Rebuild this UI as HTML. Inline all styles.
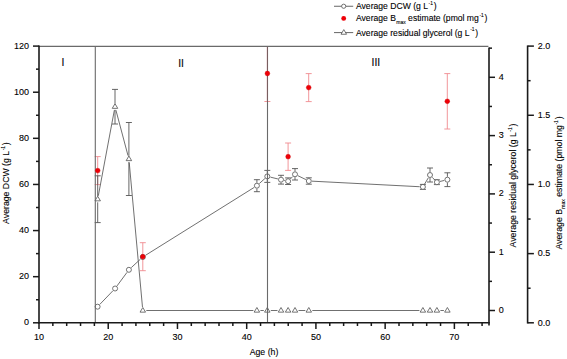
<!DOCTYPE html>
<html><head><meta charset="utf-8"><style>
html,body{margin:0;padding:0;background:#fff;}
svg{display:block;}
text{font-family:"Liberation Sans",sans-serif;fill:#000;stroke:#000;stroke-width:0.1px;}
.t{font-size:9.0px;}
.ti{font-size:8.72px;}
.lg{font-size:8.6px;}
.rl{font-size:10.4px;}
</style></head><body>
<svg width="567" height="359" viewBox="0 0 567 359">
<rect width="567" height="359" fill="#fff"/>
<line x1="97.7" y1="156.6" x2="97.7" y2="170.6" stroke="#f08a8f" stroke-width="0.9"/>
<line x1="97.7" y1="170.6" x2="97.7" y2="184.6" stroke="#f08a8f" stroke-width="0.9"/>
<line x1="94.7" y1="156.6" x2="100.7" y2="156.6" stroke="#f08a8f" stroke-width="0.9"/>
<line x1="94.7" y1="184.6" x2="100.7" y2="184.6" stroke="#f08a8f" stroke-width="0.9"/>
<line x1="142.8" y1="242.7" x2="142.8" y2="256.7" stroke="#f08a8f" stroke-width="0.9"/>
<line x1="142.8" y1="256.7" x2="142.8" y2="270.7" stroke="#f08a8f" stroke-width="0.9"/>
<line x1="139.8" y1="242.7" x2="145.8" y2="242.7" stroke="#f08a8f" stroke-width="0.9"/>
<line x1="139.8" y1="270.7" x2="145.8" y2="270.7" stroke="#f08a8f" stroke-width="0.9"/>
<line x1="267.4" y1="46.4" x2="267.4" y2="73.5" stroke="#f08a8f" stroke-width="0.9"/>
<line x1="267.4" y1="73.5" x2="267.4" y2="101.5" stroke="#f08a8f" stroke-width="0.9"/>
<line x1="264.4" y1="101.5" x2="270.4" y2="101.5" stroke="#f08a8f" stroke-width="0.9"/>
<line x1="288.1" y1="143" x2="288.1" y2="156.7" stroke="#f08a8f" stroke-width="0.9"/>
<line x1="288.1" y1="156.7" x2="288.1" y2="170.4" stroke="#f08a8f" stroke-width="0.9"/>
<line x1="285.1" y1="143" x2="291.1" y2="143" stroke="#f08a8f" stroke-width="0.9"/>
<line x1="285.1" y1="170.4" x2="291.1" y2="170.4" stroke="#f08a8f" stroke-width="0.9"/>
<line x1="308.7" y1="73.6" x2="308.7" y2="87.6" stroke="#f08a8f" stroke-width="0.9"/>
<line x1="308.7" y1="87.6" x2="308.7" y2="101.6" stroke="#f08a8f" stroke-width="0.9"/>
<line x1="305.7" y1="73.6" x2="311.7" y2="73.6" stroke="#f08a8f" stroke-width="0.9"/>
<line x1="305.7" y1="101.6" x2="311.7" y2="101.6" stroke="#f08a8f" stroke-width="0.9"/>
<line x1="447.3" y1="73.6" x2="447.3" y2="101.3" stroke="#f08a8f" stroke-width="0.9"/>
<line x1="447.3" y1="101.3" x2="447.3" y2="129" stroke="#f08a8f" stroke-width="0.9"/>
<line x1="444.3" y1="73.6" x2="450.3" y2="73.6" stroke="#f08a8f" stroke-width="0.9"/>
<line x1="444.3" y1="129" x2="450.3" y2="129" stroke="#f08a8f" stroke-width="0.9"/>
<path fill="none" stroke="#606060" stroke-width="0.9" d="M99.82 304.39L112.88 290.81M117 285.93L127 272.37M131.25 267.63L140.45 259.17M145.51 255.3L254.19 187.4M259.29 183.57L264.91 178.53M270.41 177.15L277.89 178.95M284.13 180.36L284.97 180.54M290.36 178.94L292.74 176.56M297.88 175.7L305.92 179.6M312 181.17L419.7 186.73M424.54 184.15L428.36 177.75M432.21 177.31L434.69 179.89M440.01 181.46L444.29 180.44"/>
<path fill="none" stroke="#606060" stroke-width="0.9" d="M98.34 195.76L114.36 110.14M115.9 110.08L128 155.62M129.22 162.49L142.48 307.01M146.3 310.5L253.4 310.5M260.4 310.5L263.8 310.5M270.8 310.5L277.5 310.5M284.5 310.5L284.6 310.5M298.5 310.5L305.3 310.5M312.3 310.5L419.4 310.5M426.4 310.5L426.5 310.5M440.4 310.5L443.9 310.5"/>
<line x1="256.9" y1="179.7" x2="256.9" y2="182.8" stroke="#555" stroke-width="0.9"/>
<line x1="256.9" y1="188.6" x2="256.9" y2="191.7" stroke="#555" stroke-width="0.9"/>
<line x1="253.9" y1="179.7" x2="259.9" y2="179.7" stroke="#555" stroke-width="0.9"/>
<line x1="253.9" y1="191.7" x2="259.9" y2="191.7" stroke="#555" stroke-width="0.9"/>
<line x1="267.3" y1="170.4" x2="267.3" y2="173.5" stroke="#555" stroke-width="0.9"/>
<line x1="267.3" y1="179.3" x2="267.3" y2="182.4" stroke="#555" stroke-width="0.9"/>
<line x1="264.3" y1="170.4" x2="270.3" y2="170.4" stroke="#555" stroke-width="0.9"/>
<line x1="264.3" y1="182.4" x2="270.3" y2="182.4" stroke="#555" stroke-width="0.9"/>
<line x1="281" y1="175.3" x2="281" y2="176.8" stroke="#555" stroke-width="0.9"/>
<line x1="281" y1="182.6" x2="281" y2="184.1" stroke="#555" stroke-width="0.9"/>
<line x1="278" y1="175.3" x2="284" y2="175.3" stroke="#555" stroke-width="0.9"/>
<line x1="278" y1="184.1" x2="284" y2="184.1" stroke="#555" stroke-width="0.9"/>
<line x1="288.1" y1="177.9" x2="288.1" y2="178.3" stroke="#555" stroke-width="0.9"/>
<line x1="288.1" y1="184.1" x2="288.1" y2="184.5" stroke="#555" stroke-width="0.9"/>
<line x1="285.1" y1="177.9" x2="291.1" y2="177.9" stroke="#555" stroke-width="0.9"/>
<line x1="285.1" y1="184.5" x2="291.1" y2="184.5" stroke="#555" stroke-width="0.9"/>
<line x1="295" y1="168.6" x2="295" y2="171.4" stroke="#555" stroke-width="0.9"/>
<line x1="295" y1="177.2" x2="295" y2="180" stroke="#555" stroke-width="0.9"/>
<line x1="292" y1="168.6" x2="298" y2="168.6" stroke="#555" stroke-width="0.9"/>
<line x1="292" y1="180" x2="298" y2="180" stroke="#555" stroke-width="0.9"/>
<line x1="308.8" y1="177.8" x2="308.8" y2="178.1" stroke="#555" stroke-width="0.9"/>
<line x1="308.8" y1="183.9" x2="308.8" y2="184.2" stroke="#555" stroke-width="0.9"/>
<line x1="305.8" y1="177.8" x2="311.8" y2="177.8" stroke="#555" stroke-width="0.9"/>
<line x1="305.8" y1="184.2" x2="311.8" y2="184.2" stroke="#555" stroke-width="0.9"/>
<line x1="419.9" y1="184.4" x2="425.9" y2="184.4" stroke="#555" stroke-width="0.9"/>
<line x1="419.9" y1="189.4" x2="425.9" y2="189.4" stroke="#555" stroke-width="0.9"/>
<line x1="430" y1="168" x2="430" y2="172.1" stroke="#555" stroke-width="0.9"/>
<line x1="430" y1="177.9" x2="430" y2="182" stroke="#555" stroke-width="0.9"/>
<line x1="427" y1="168" x2="433" y2="168" stroke="#555" stroke-width="0.9"/>
<line x1="427" y1="182" x2="433" y2="182" stroke="#555" stroke-width="0.9"/>
<line x1="433.9" y1="179.8" x2="439.9" y2="179.8" stroke="#555" stroke-width="0.9"/>
<line x1="433.9" y1="184.6" x2="439.9" y2="184.6" stroke="#555" stroke-width="0.9"/>
<line x1="447.4" y1="172.8" x2="447.4" y2="176.8" stroke="#555" stroke-width="0.9"/>
<line x1="447.4" y1="182.6" x2="447.4" y2="186.6" stroke="#555" stroke-width="0.9"/>
<line x1="444.4" y1="172.8" x2="450.4" y2="172.8" stroke="#555" stroke-width="0.9"/>
<line x1="444.4" y1="186.6" x2="450.4" y2="186.6" stroke="#555" stroke-width="0.9"/>
<line x1="97.7" y1="175.8" x2="97.7" y2="196.1" stroke="#555" stroke-width="0.9"/>
<line x1="97.7" y1="202.3" x2="97.7" y2="222.6" stroke="#555" stroke-width="0.9"/>
<line x1="94.7" y1="175.8" x2="100.7" y2="175.8" stroke="#555" stroke-width="0.9"/>
<line x1="94.7" y1="222.6" x2="100.7" y2="222.6" stroke="#555" stroke-width="0.9"/>
<line x1="115" y1="89.4" x2="115" y2="103.6" stroke="#555" stroke-width="0.9"/>
<line x1="115" y1="109.8" x2="115" y2="124" stroke="#555" stroke-width="0.9"/>
<line x1="112" y1="89.4" x2="118" y2="89.4" stroke="#555" stroke-width="0.9"/>
<line x1="112" y1="124" x2="118" y2="124" stroke="#555" stroke-width="0.9"/>
<line x1="128.9" y1="122.5" x2="128.9" y2="155.9" stroke="#555" stroke-width="0.9"/>
<line x1="128.9" y1="162.1" x2="128.9" y2="195.5" stroke="#555" stroke-width="0.9"/>
<line x1="125.9" y1="122.5" x2="131.9" y2="122.5" stroke="#555" stroke-width="0.9"/>
<line x1="125.9" y1="195.5" x2="131.9" y2="195.5" stroke="#555" stroke-width="0.9"/>
<circle cx="97.6" cy="306.7" r="2.5" fill="#fff" stroke="#505050" stroke-width="0.8"/>
<circle cx="115.1" cy="288.5" r="2.5" fill="#fff" stroke="#505050" stroke-width="0.8"/>
<circle cx="128.9" cy="269.8" r="2.5" fill="#fff" stroke="#505050" stroke-width="0.8"/>
<circle cx="142.8" cy="257" r="2.5" fill="#fff" stroke="#505050" stroke-width="0.8"/>
<circle cx="256.9" cy="185.7" r="2.5" fill="#fff" stroke="#505050" stroke-width="0.8"/>
<circle cx="267.3" cy="176.4" r="2.5" fill="#fff" stroke="#505050" stroke-width="0.8"/>
<circle cx="281" cy="179.7" r="2.5" fill="#fff" stroke="#505050" stroke-width="0.8"/>
<circle cx="288.1" cy="181.2" r="2.5" fill="#fff" stroke="#505050" stroke-width="0.8"/>
<circle cx="295" cy="174.3" r="2.5" fill="#fff" stroke="#505050" stroke-width="0.8"/>
<circle cx="308.8" cy="181" r="2.5" fill="#fff" stroke="#505050" stroke-width="0.8"/>
<circle cx="422.9" cy="186.9" r="2.5" fill="#fff" stroke="#505050" stroke-width="0.8"/>
<circle cx="430" cy="175" r="2.5" fill="#fff" stroke="#505050" stroke-width="0.8"/>
<circle cx="436.9" cy="182.2" r="2.5" fill="#fff" stroke="#505050" stroke-width="0.8"/>
<circle cx="447.4" cy="179.7" r="2.5" fill="#fff" stroke="#505050" stroke-width="0.8"/>
<polygon points="97.7,196.2 94.95,200.85 100.45,200.85" fill="#fff" stroke="#505050" stroke-width="0.8" stroke-linejoin="round"/>
<polygon points="115,103.7 112.25,108.35 117.75,108.35" fill="#fff" stroke="#505050" stroke-width="0.8" stroke-linejoin="round"/>
<polygon points="128.9,156 126.15,160.65 131.65,160.65" fill="#fff" stroke="#505050" stroke-width="0.8" stroke-linejoin="round"/>
<polygon points="142.8,307.5 140.05,312.15 145.55,312.15" fill="#fff" stroke="#505050" stroke-width="0.8" stroke-linejoin="round"/>
<polygon points="256.9,307.5 254.15,312.15 259.65,312.15" fill="#fff" stroke="#505050" stroke-width="0.8" stroke-linejoin="round"/>
<polygon points="267.3,307.5 264.55,312.15 270.05,312.15" fill="#fff" stroke="#505050" stroke-width="0.8" stroke-linejoin="round"/>
<polygon points="281,307.5 278.25,312.15 283.75,312.15" fill="#fff" stroke="#505050" stroke-width="0.8" stroke-linejoin="round"/>
<polygon points="288.1,307.5 285.35,312.15 290.85,312.15" fill="#fff" stroke="#505050" stroke-width="0.8" stroke-linejoin="round"/>
<polygon points="295,307.5 292.25,312.15 297.75,312.15" fill="#fff" stroke="#505050" stroke-width="0.8" stroke-linejoin="round"/>
<polygon points="308.8,307.5 306.05,312.15 311.55,312.15" fill="#fff" stroke="#505050" stroke-width="0.8" stroke-linejoin="round"/>
<polygon points="422.9,307.5 420.15,312.15 425.65,312.15" fill="#fff" stroke="#505050" stroke-width="0.8" stroke-linejoin="round"/>
<polygon points="430,307.5 427.25,312.15 432.75,312.15" fill="#fff" stroke="#505050" stroke-width="0.8" stroke-linejoin="round"/>
<polygon points="436.9,307.5 434.15,312.15 439.65,312.15" fill="#fff" stroke="#505050" stroke-width="0.8" stroke-linejoin="round"/>
<polygon points="447.4,307.5 444.65,312.15 450.15,312.15" fill="#fff" stroke="#505050" stroke-width="0.8" stroke-linejoin="round"/>
<line x1="39" y1="46.4" x2="488.4" y2="46.4" stroke="#6a6a6a" stroke-width="1.1"/>
<line x1="95.3" y1="46.4" x2="95.3" y2="322.8" stroke="#6a6a6a" stroke-width="1.1"/>
<line x1="267.5" y1="46.4" x2="267.5" y2="322.8" stroke="#6a6a6a" stroke-width="1.1"/>
<line x1="267.4" y1="46.9" x2="267.4" y2="101.4" stroke="#c02838" stroke-opacity="0.2" stroke-width="1"/>
<circle cx="97.7" cy="170.6" r="2.4" fill="#ee0008" stroke="#cc0000" stroke-width="0.4"/>
<circle cx="142.8" cy="256.7" r="2.4" fill="#ee0008" stroke="#cc0000" stroke-width="0.4"/>
<circle cx="267.4" cy="73.5" r="2.4" fill="#ee0008" stroke="#cc0000" stroke-width="0.4"/>
<circle cx="288.1" cy="156.7" r="2.4" fill="#ee0008" stroke="#cc0000" stroke-width="0.4"/>
<circle cx="308.7" cy="87.6" r="2.4" fill="#ee0008" stroke="#cc0000" stroke-width="0.4"/>
<circle cx="447.3" cy="101.3" r="2.4" fill="#ee0008" stroke="#cc0000" stroke-width="0.4"/>
<line x1="39" y1="45.4" x2="39" y2="323.6" stroke="#1a1a1a" stroke-width="1.6"/>
<line x1="33" y1="322.8" x2="39" y2="322.8" stroke="#1a1a1a" stroke-width="1.5"/>
<text x="29" y="325.3" text-anchor="end" class="t">0</text>
<line x1="36" y1="299.74" x2="39" y2="299.74" stroke="#1a1a1a" stroke-width="1.5"/>
<line x1="33" y1="276.68" x2="39" y2="276.68" stroke="#1a1a1a" stroke-width="1.5"/>
<text x="29" y="279.18" text-anchor="end" class="t">20</text>
<line x1="36" y1="253.62" x2="39" y2="253.62" stroke="#1a1a1a" stroke-width="1.5"/>
<line x1="33" y1="230.57" x2="39" y2="230.57" stroke="#1a1a1a" stroke-width="1.5"/>
<text x="29" y="233.07" text-anchor="end" class="t">40</text>
<line x1="36" y1="207.51" x2="39" y2="207.51" stroke="#1a1a1a" stroke-width="1.5"/>
<line x1="33" y1="184.45" x2="39" y2="184.45" stroke="#1a1a1a" stroke-width="1.5"/>
<text x="29" y="186.95" text-anchor="end" class="t">60</text>
<line x1="36" y1="161.39" x2="39" y2="161.39" stroke="#1a1a1a" stroke-width="1.5"/>
<line x1="33" y1="138.33" x2="39" y2="138.33" stroke="#1a1a1a" stroke-width="1.5"/>
<text x="29" y="140.83" text-anchor="end" class="t">80</text>
<line x1="36" y1="115.28" x2="39" y2="115.28" stroke="#1a1a1a" stroke-width="1.5"/>
<line x1="33" y1="92.22" x2="39" y2="92.22" stroke="#1a1a1a" stroke-width="1.5"/>
<text x="29" y="94.72" text-anchor="end" class="t">100</text>
<line x1="36" y1="69.16" x2="39" y2="69.16" stroke="#1a1a1a" stroke-width="1.5"/>
<line x1="33" y1="46.1" x2="39" y2="46.1" stroke="#1a1a1a" stroke-width="1.5"/>
<text x="29" y="48.6" text-anchor="end" class="t">120</text>
<line x1="38.2" y1="322.8" x2="489.8" y2="322.8" stroke="#1a1a1a" stroke-width="1.6"/>
<line x1="39" y1="322.8" x2="39" y2="329" stroke="#1a1a1a" stroke-width="1.5"/>
<text x="39" y="339.5" text-anchor="middle" class="t">10</text>
<line x1="52.85" y1="322.8" x2="52.85" y2="326" stroke="#1a1a1a" stroke-width="1.5"/>
<line x1="66.69" y1="322.8" x2="66.69" y2="326" stroke="#1a1a1a" stroke-width="1.5"/>
<line x1="80.54" y1="322.8" x2="80.54" y2="326" stroke="#1a1a1a" stroke-width="1.5"/>
<line x1="94.38" y1="322.8" x2="94.38" y2="326" stroke="#1a1a1a" stroke-width="1.5"/>
<line x1="108.23" y1="322.8" x2="108.23" y2="329" stroke="#1a1a1a" stroke-width="1.5"/>
<text x="108.23" y="339.5" text-anchor="middle" class="t">20</text>
<line x1="122.08" y1="322.8" x2="122.08" y2="326" stroke="#1a1a1a" stroke-width="1.5"/>
<line x1="135.92" y1="322.8" x2="135.92" y2="326" stroke="#1a1a1a" stroke-width="1.5"/>
<line x1="149.77" y1="322.8" x2="149.77" y2="326" stroke="#1a1a1a" stroke-width="1.5"/>
<line x1="163.62" y1="322.8" x2="163.62" y2="326" stroke="#1a1a1a" stroke-width="1.5"/>
<line x1="177.46" y1="322.8" x2="177.46" y2="329" stroke="#1a1a1a" stroke-width="1.5"/>
<text x="177.46" y="339.5" text-anchor="middle" class="t">30</text>
<line x1="191.31" y1="322.8" x2="191.31" y2="326" stroke="#1a1a1a" stroke-width="1.5"/>
<line x1="205.15" y1="322.8" x2="205.15" y2="326" stroke="#1a1a1a" stroke-width="1.5"/>
<line x1="219" y1="322.8" x2="219" y2="326" stroke="#1a1a1a" stroke-width="1.5"/>
<line x1="232.85" y1="322.8" x2="232.85" y2="326" stroke="#1a1a1a" stroke-width="1.5"/>
<line x1="246.69" y1="322.8" x2="246.69" y2="329" stroke="#1a1a1a" stroke-width="1.5"/>
<text x="246.69" y="339.5" text-anchor="middle" class="t">40</text>
<line x1="260.54" y1="322.8" x2="260.54" y2="326" stroke="#1a1a1a" stroke-width="1.5"/>
<line x1="274.38" y1="322.8" x2="274.38" y2="326" stroke="#1a1a1a" stroke-width="1.5"/>
<line x1="288.23" y1="322.8" x2="288.23" y2="326" stroke="#1a1a1a" stroke-width="1.5"/>
<line x1="302.08" y1="322.8" x2="302.08" y2="326" stroke="#1a1a1a" stroke-width="1.5"/>
<line x1="315.92" y1="322.8" x2="315.92" y2="329" stroke="#1a1a1a" stroke-width="1.5"/>
<text x="315.92" y="339.5" text-anchor="middle" class="t">50</text>
<line x1="329.77" y1="322.8" x2="329.77" y2="326" stroke="#1a1a1a" stroke-width="1.5"/>
<line x1="343.62" y1="322.8" x2="343.62" y2="326" stroke="#1a1a1a" stroke-width="1.5"/>
<line x1="357.46" y1="322.8" x2="357.46" y2="326" stroke="#1a1a1a" stroke-width="1.5"/>
<line x1="371.31" y1="322.8" x2="371.31" y2="326" stroke="#1a1a1a" stroke-width="1.5"/>
<line x1="385.15" y1="322.8" x2="385.15" y2="329" stroke="#1a1a1a" stroke-width="1.5"/>
<text x="385.15" y="339.5" text-anchor="middle" class="t">60</text>
<line x1="399" y1="322.8" x2="399" y2="326" stroke="#1a1a1a" stroke-width="1.5"/>
<line x1="412.85" y1="322.8" x2="412.85" y2="326" stroke="#1a1a1a" stroke-width="1.5"/>
<line x1="426.69" y1="322.8" x2="426.69" y2="326" stroke="#1a1a1a" stroke-width="1.5"/>
<line x1="440.54" y1="322.8" x2="440.54" y2="326" stroke="#1a1a1a" stroke-width="1.5"/>
<line x1="454.38" y1="322.8" x2="454.38" y2="329" stroke="#1a1a1a" stroke-width="1.5"/>
<text x="454.38" y="339.5" text-anchor="middle" class="t">70</text>
<line x1="468.23" y1="322.8" x2="468.23" y2="326" stroke="#1a1a1a" stroke-width="1.5"/>
<line x1="482.08" y1="322.8" x2="482.08" y2="326" stroke="#1a1a1a" stroke-width="1.5"/>
<line x1="489" y1="47.4" x2="489" y2="325.6" stroke="#1a1a1a" stroke-width="1.6"/>
<line x1="489" y1="310.5" x2="495" y2="310.5" stroke="#1a1a1a" stroke-width="1.5"/>
<text x="498.8" y="312.9" class="t">0</text>
<line x1="489" y1="281.35" x2="492" y2="281.35" stroke="#1a1a1a" stroke-width="1.5"/>
<line x1="489" y1="252.2" x2="495" y2="252.2" stroke="#1a1a1a" stroke-width="1.5"/>
<text x="498.8" y="254.6" class="t">1</text>
<line x1="489" y1="223.05" x2="492" y2="223.05" stroke="#1a1a1a" stroke-width="1.5"/>
<line x1="489" y1="193.9" x2="495" y2="193.9" stroke="#1a1a1a" stroke-width="1.5"/>
<text x="498.8" y="196.3" class="t">2</text>
<line x1="489" y1="164.75" x2="492" y2="164.75" stroke="#1a1a1a" stroke-width="1.5"/>
<line x1="489" y1="135.6" x2="495" y2="135.6" stroke="#1a1a1a" stroke-width="1.5"/>
<text x="498.8" y="138" class="t">3</text>
<line x1="489" y1="106.45" x2="492" y2="106.45" stroke="#1a1a1a" stroke-width="1.5"/>
<line x1="489" y1="77.3" x2="495" y2="77.3" stroke="#1a1a1a" stroke-width="1.5"/>
<text x="498.8" y="79.7" class="t">4</text>
<line x1="489" y1="48.15" x2="492" y2="48.15" stroke="#1a1a1a" stroke-width="1.5"/>
<line x1="527.6" y1="45.4" x2="527.6" y2="323.5" stroke="#1a1a1a" stroke-width="1.6"/>
<line x1="527.6" y1="322.8" x2="533.9" y2="322.8" stroke="#1a1a1a" stroke-width="1.5"/>
<text x="537.8" y="325.6" class="t">0.0</text>
<line x1="527.6" y1="288.21" x2="530.6" y2="288.21" stroke="#1a1a1a" stroke-width="1.5"/>
<line x1="527.6" y1="253.62" x2="533.9" y2="253.62" stroke="#1a1a1a" stroke-width="1.5"/>
<text x="537.8" y="256.43" class="t">0.5</text>
<line x1="527.6" y1="219.04" x2="530.6" y2="219.04" stroke="#1a1a1a" stroke-width="1.5"/>
<line x1="527.6" y1="184.45" x2="533.9" y2="184.45" stroke="#1a1a1a" stroke-width="1.5"/>
<text x="537.8" y="187.25" class="t">1.0</text>
<line x1="527.6" y1="149.86" x2="530.6" y2="149.86" stroke="#1a1a1a" stroke-width="1.5"/>
<line x1="527.6" y1="115.28" x2="533.9" y2="115.28" stroke="#1a1a1a" stroke-width="1.5"/>
<text x="537.8" y="118.08" class="t">1.5</text>
<line x1="527.6" y1="80.69" x2="530.6" y2="80.69" stroke="#1a1a1a" stroke-width="1.5"/>
<line x1="527.6" y1="46.1" x2="533.9" y2="46.1" stroke="#1a1a1a" stroke-width="1.5"/>
<text x="537.8" y="48.9" class="t">2.0</text>
<text x="264" y="355.3" text-anchor="middle" class="ti">Age (h)</text>
<text transform="translate(9.3 183.05) rotate(-90)" text-anchor="middle" class="ti">Average DCW (g L<tspan font-size="4.9" dx="0.6" dy="-4.4">-1</tspan><tspan dx="0.8" dy="4.4">)</tspan></text>
<text transform="translate(516.2 185.5) rotate(-90)" text-anchor="middle" class="ti">Average residual glycerol (g L<tspan font-size="4.9" dx="0.6" dy="-4.4">-1</tspan><tspan dx="0.8" dy="4.4">)</tspan></text>
<text transform="translate(562.3 183) rotate(-90)" text-anchor="middle" class="ti">Average B<tspan font-size="5" dx="0.3" dy="3">max</tspan><tspan dy="-3"> estimate (pmol mg</tspan><tspan font-size="4.9" dx="0.6" dy="-4.4">-1</tspan><tspan dx="0.8" dy="4.4">)</tspan></text>
<text x="62.9" y="65.8" text-anchor="middle" class="rl">I</text>
<text x="181.1" y="66.5" text-anchor="middle" class="rl">II</text>
<text x="375.9" y="65.8" text-anchor="middle" class="rl">III</text>
<line x1="334" y1="6.25" x2="353.2" y2="6.25" stroke="#555" stroke-width="0.9"/>
<circle cx="343.7" cy="6.25" r="2.1" fill="#fff" stroke="#505050" stroke-width="0.8"/>
<circle cx="343.7" cy="18.4" r="2.4" fill="#ee0008"/>
<line x1="334" y1="32.6" x2="353.2" y2="32.6" stroke="#555" stroke-width="0.9"/>
<polygon points="343.8,29.6 341.05,34.25 346.55,34.25" fill="#fff" stroke="#505050" stroke-width="0.8" stroke-linejoin="round"/>
<text x="356" y="9.4" class="lg">Average DCW (g L<tspan font-size="4.9" dx="0.6" dy="-4.4">-1</tspan><tspan dx="0.8" dy="4.4">)</tspan></text>
<text x="356" y="21.4" class="lg">Average B<tspan font-size="5" dx="0.3" dy="3">max</tspan><tspan dy="-3"> estimate (pmol mg</tspan><tspan font-size="4.9" dx="0.6" dy="-4.4">-1</tspan><tspan dx="0.8" dy="4.4">)</tspan></text>
<text x="356" y="35.6" class="lg">Average residual glycerol (g L<tspan font-size="4.9" dx="0.6" dy="-4.4">-1</tspan><tspan dx="0.8" dy="4.4">)</tspan></text>
</svg>
</body></html>
